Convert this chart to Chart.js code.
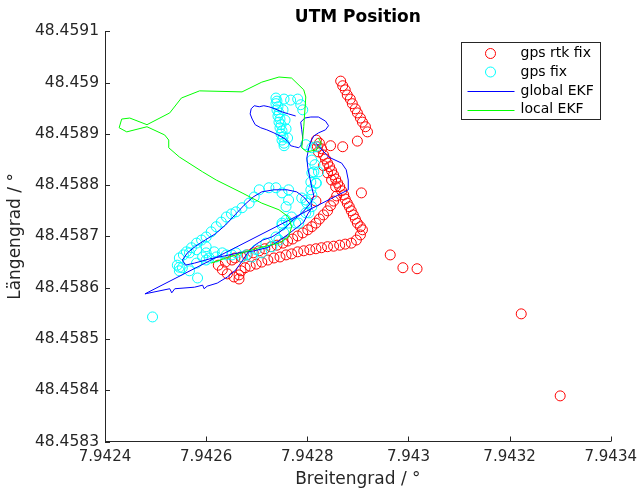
<!DOCTYPE html>
<html>
<head>
<meta charset="utf-8">
<script src="https://cdn.jsdelivr.net/npm/chart.js@4.4.1/dist/chart.umd.min.js"></script>
<style>
html,body{margin:0;padding:0;background:#fff;}
#wrap{width:644px;height:490px;position:relative;}
</style>
</head>
<body>
<div id="wrap"><canvas id="c" width="644" height="490"></canvas></div>
<script>
// ---- axis ticks ----
const xTickValues = [7.9424, 7.9426, 7.9428, 7.943, 7.9432, 7.9434];
const xTickLabels = ['7.9424', '7.9426', '7.9428', '7.943', '7.9432', '7.9434'];
const yTickValues = [48.4583, 48.4584, 48.4585, 48.4586, 48.4587, 48.4588, 48.4589, 48.459, 48.4591];
const yTickLabels = ['48.4583', '48.4584', '48.4585', '48.4586', '48.4587', '48.4588', '48.4589', '48.459', '48.4591'];

// ---- series labels ----
const seriesNames = ['gps rtk fix', 'gps fix', 'global EKF', 'local EKF'];

// ---- gps rtk fix ----
const rtkX = [
7.942866,7.942870,7.942875,7.942879,7.942885,7.942889,7.942895,7.942899,7.942905,7.942909,7.942915,7.942919,
7.942899,7.942870,7.942846,7.942907,7.942964,7.942989,7.943017,7.943223,7.943300,
7.942818,7.942824,7.942820,7.942828,7.942822,7.942832,
7.942836,7.942840,7.942844,7.942848,7.942852,7.942856,7.942860,7.942864,7.942868,7.942872,7.942875,7.942879,7.942883,7.942887,7.942891,7.942895,7.942899,7.942905,7.942909,
7.942905,7.942897,7.942887,7.942875,7.942864,7.942852,7.942840,7.942828,7.942817,7.942805,7.942793,7.942781,7.942769,7.942758,7.942746,7.942734,7.942722,7.942710,7.942699,7.942687,7.942677,7.942669,
7.942665,7.942665,7.942655,7.942642,7.942632,7.942624,7.942638,7.942651,
7.942858,7.942852,7.942846,7.942840,7.942832,7.942824,7.942817,7.942809,7.942801,7.942791,7.942781,7.942771,7.942761,7.942752,7.942740,7.942728,7.942716,7.942705,7.942693,7.942681,7.942669,7.942657,
7.942817,
7.942832,7.942840,7.942848,7.942856];
const rtkY = [
48.459003,48.458994,48.458986,48.458976,48.458968,48.458959,48.458949,48.458941,48.458931,48.458923,48.458914,48.458904,
48.458886,48.458875,48.458877,48.458785,48.458664,48.458639,48.458637,48.458549,48.458389,
48.458888,48.458882,48.458875,48.458871,48.458865,48.458859,
48.458851,48.458843,48.458836,48.458828,48.458820,48.458812,48.458804,48.458797,48.458789,48.458781,48.458773,48.458765,48.458758,48.458750,48.458742,48.458734,48.458726,48.458719,48.458713,
48.458703,48.458693,48.458687,48.458685,48.458683,48.458681,48.458680,48.458678,48.458676,48.458674,48.458672,48.458670,48.458666,48.458664,48.458660,48.458658,48.458654,48.458650,48.458646,48.458642,48.458639,48.458633,
48.458625,48.458617,48.458621,48.458627,48.458635,48.458644,48.458650,48.458654,
48.458779,48.458769,48.458760,48.458750,48.458742,48.458734,48.458726,48.458719,48.458713,48.458707,48.458701,48.458695,48.458691,48.458687,48.458683,48.458680,48.458676,48.458672,48.458668,48.458664,48.458660,48.458658,
48.458769,
48.458838,48.458824,48.458810,48.458797];

// ---- gps fix ----
const gpsX = [
7.942738,7.942740,7.942738,7.942742,7.942740,7.942744,7.942742,7.942746,7.942744,7.942748,7.942746,7.942750,7.942748,7.942752,7.942750,7.942754,7.942754,7.942758,7.942756,7.942752,7.942761,
7.942754,7.942767,7.942781,7.942787,7.942791,
7.942797,7.942809,7.942817,7.942809,7.942815,7.942822,7.942813,7.942807,7.942818,7.942807,7.942797,7.942809,7.942803,7.942789,
7.942705,7.942724,7.942738,7.942750,7.942763,7.942758,7.942769,7.942777,7.942750,7.942685,7.942659,7.942640,7.942620,7.942600,7.942581,7.942561,7.942547,7.942543,7.942553,7.942581,7.942600,7.942620,7.942640,7.942659,7.942679,7.942699,7.942718,7.942738,7.942758,7.942783,7.942797,7.942799,7.942809,7.942817,7.942809,7.942695,7.942671,
7.942600,7.942616,7.942632,7.942651,7.942671,7.942691,7.942710,7.942730,7.942744,7.942754,7.942750,7.942763,
7.942547,7.942567,7.942581,7.942600,7.942593,7.942606,7.942583,7.942547,7.942567,7.942494,
7.942650,7.942630,7.942610,7.942591,7.942571,7.942555,7.942763];
const gpsY = [
48.458970,48.458964,48.458959,48.458953,48.458947,48.458941,48.458935,48.458929,48.458923,48.458918,48.458912,48.458906,48.458900,48.458894,48.458888,48.458882,48.458877,48.458910,48.458927,48.458947,48.458892,
48.458968,48.458966,48.458968,48.458957,48.458947,
48.458879,48.458873,48.458875,48.458849,48.458840,48.458826,48.458826,48.458806,48.458804,48.458791,48.458771,48.458758,48.458746,48.458775,
48.458791,48.458795,48.458795,48.458785,48.458771,48.458758,48.458738,48.458726,48.458726,48.458765,48.458748,48.458738,48.458719,48.458699,48.458687,48.458670,48.458658,48.458644,48.458639,48.458648,48.458654,48.458660,48.458664,48.458668,48.458664,48.458674,48.458687,48.458699,48.458732,48.458726,48.458746,48.458765,48.458781,48.458804,48.458824,48.458777,48.458756,
48.458668,48.458670,48.458668,48.458664,48.458660,48.458660,48.458668,48.458680,48.458693,48.458707,48.458722,48.458726,
48.458640,48.458668,48.458674,48.458680,48.458660,48.458658,48.458619,48.458633,48.458633,48.458543,
48.458744,48.458728,48.458709,48.458693,48.458678,48.458664,48.458791];

// ---- global EKF ----
const globalX = [
7.942777,7.942763,7.942750,7.942736,7.942724,7.942714,7.942705,7.942695,7.942689,7.942687,
7.942691,7.942697,7.942708,7.942720,7.942734,7.942746,7.942756,7.942763,7.942767,7.942775,
7.942783,7.942789,7.942791,7.942789,7.942787,7.942795,7.942807,7.942822,7.942836,7.942842,
7.942836,7.942822,7.942813,7.942807,7.942803,7.942799,7.942801,7.942805,7.942809,7.942813,
7.942807,7.942809,7.942801,7.942793,7.942779,7.942763,7.942744,7.942720,7.942695,7.942665,
7.942636,7.942606,7.942577,7.942559,7.942553,7.942563,7.942579,7.942598,7.942618,7.942638,
7.942657,7.942675,7.942693,7.942710,7.942734,7.942760,7.942779,7.942793,7.942805,7.942795,
7.942783,7.942769,7.942760,7.942746,7.942730,7.942712,7.942699,7.942685,7.942671,7.942659,
7.942642,7.942622,7.942602,7.942596,7.942593,7.942577,7.942538,7.942532,7.942528,7.942479,
7.942881,7.942881,7.942877,7.942868,7.942842,7.942817];
const globalY = [
48.458935,48.458939,48.458943,48.458949,48.458953,48.458955,48.458953,48.458955,48.458949,48.458939,
48.458929,48.458918,48.458912,48.458908,48.458902,48.458896,48.458890,48.458884,48.458877,48.458875,
48.458873,48.458879,48.458892,48.458908,48.458923,48.458931,48.458933,48.458933,48.458925,48.458916,
48.458908,48.458902,48.458896,48.458886,48.458873,48.458853,48.458834,48.458814,48.458795,48.458779,
48.458765,48.458756,48.458744,48.458728,48.458717,48.458705,48.458691,48.458678,48.458672,48.458668,
48.458662,48.458656,48.458648,48.458644,48.458654,48.458668,48.458681,48.458693,48.458705,48.458722,
48.458742,48.458761,48.458777,48.458787,48.458791,48.458791,48.458787,48.458777,48.458763,48.458752,
48.458740,48.458730,48.458720,48.458709,48.458699,48.458693,48.458685,48.458672,48.458652,48.458635,
48.458621,48.458609,48.458603,48.458598,48.458605,48.458601,48.458598,48.458590,48.458598,48.458588,
48.458791,48.458810,48.458830,48.458843,48.458855,48.458882];

// ---- local EKF ----
const localX = [
7.942610,7.942640,7.942671,7.942705,7.942744,7.942763,7.942769,7.942763,7.942744,7.942710,
7.942671,7.942620,7.942593,7.942547,7.942526,7.942526,7.942518,7.942483,7.942443,7.942428,
7.942433,7.942449,7.942483,7.942528,7.942551,7.942587,7.942671,7.942710,7.942744,7.942769,
7.942793,7.942797,7.942793,7.942789,7.942799,7.942818,7.942828,7.942822];
const localY = [
48.458648,48.458658,48.458668,48.458678,48.458687,48.458699,48.458719,48.458738,48.458752,48.458765,
48.458785,48.458810,48.458826,48.458855,48.458873,48.458888,48.458898,48.458914,48.458904,48.458912,
48.458929,48.458931,48.458918,48.458941,48.458970,48.458984,48.458982,48.459001,48.459011,48.459009,
48.458986,48.458972,48.458914,48.458873,48.458865,48.458869,48.458882,48.458892];

const zip = (xs, ys) => xs.map((x, i) => ({x: x, y: ys[i]}));

const FONT = "'DejaVu Sans', 'Liberation Sans', sans-serif";
const AXIS_COLOR = '#262626';
const RED = 'rgb(255,0,0)', CYAN = 'rgb(0,255,255)', BLUE = 'rgb(0,0,255)', GREEN = 'rgb(0,255,0)';

const decoPlugin = {
  id: 'deco',
  afterDraw(chart) {
    const ctx = chart.ctx;
    const xs = chart.scales.x, ys = chart.scales.y;
    const a = chart.chartArea;
    ctx.save();
    // inward tick marks
    ctx.strokeStyle = AXIS_COLOR;
    ctx.lineWidth = 1;
    ctx.beginPath();
    xTickValues.forEach(v => {
      const px = Math.round(xs.getPixelForValue(v)) + 0.5;
      ctx.moveTo(px, a.bottom);
      ctx.lineTo(px, a.bottom - 5);
    });
    yTickValues.forEach(v => {
      const py = Math.round(ys.getPixelForValue(v)) + 0.5;
      ctx.moveTo(a.left, py);
      ctx.lineTo(a.left + 5, py);
    });
    ctx.stroke();

    // legend box
    const bx = Math.round(a.right) - 150 + 0.5, by = Math.round(a.top) + 11 + 0.5, bw = 139, bh = 77;
    ctx.fillStyle = '#fff';
    ctx.fillRect(bx, by, bw, bh);
    ctx.strokeStyle = AXIS_COLOR;
    ctx.strokeRect(bx, by, bw, bh);
    const rows = [11, 29.5, 48.5, 67];
    ctx.font = '14px ' + FONT;
    ctx.textBaseline = 'middle';
    ctx.textAlign = 'left';
    chart.data.datasets.forEach((ds, i) => {
      const ry = by + rows[i];
      ctx.strokeStyle = ds.borderColor;
      ctx.lineWidth = 1;
      ctx.beginPath();
      if (ds.showLine) {
        ctx.moveTo(bx + 6, Math.round(ry) + 0.5);
        ctx.lineTo(bx + 53, Math.round(ry) + 0.5);
      } else {
        ctx.arc(bx + 29, ry, 5, 0, Math.PI * 2);
      }
      ctx.stroke();
      ctx.fillStyle = '#000';
      ctx.fillText(ds.label, bx + 59, ry);
    });
    ctx.restore();
  }
};

new Chart(document.getElementById('c'), {
  type: 'scatter',
  data: {
    datasets: [
      {label: seriesNames[0], data: zip(rtkX, rtkY), showLine: false, pointStyle: 'circle', pointRadius: 5,
       pointBorderWidth: 1, borderColor: RED, pointBorderColor: RED, backgroundColor: 'rgba(0,0,0,0)', order: 4},
      {label: seriesNames[1], data: zip(gpsX, gpsY), showLine: false, pointStyle: 'circle', pointRadius: 5,
       pointBorderWidth: 1, borderColor: CYAN, pointBorderColor: CYAN, backgroundColor: 'rgba(0,0,0,0)', order: 3},
      {label: seriesNames[2], data: zip(globalX, globalY), showLine: true, pointRadius: 0, borderWidth: 1,
       borderColor: BLUE, backgroundColor: BLUE, fill: false, tension: 0, order: 2},
      {label: seriesNames[3], data: zip(localX, localY), showLine: true, pointRadius: 0, borderWidth: 1,
       borderColor: GREEN, backgroundColor: GREEN, fill: false, tension: 0, order: 1}
    ]
  },
  options: {
    responsive: false,
    devicePixelRatio: 1,
    animation: false,
    events: [],
    layout: {padding: {top: 0, right: 30, bottom: 0, left: 0}},
    plugins: {
      legend: {display: false},
      tooltip: {enabled: false},
      title: {
        display: true, text: 'UTM Position', fullSize: false, color: '#000',
        font: {family: FONT, size: 17, weight: 'bold', lineHeight: 1.2},
        padding: {top: 7.5, bottom: 3.5}
      }
    },
    scales: {
      x: {
        type: 'linear', position: 'bottom', min: 7.9424, max: 7.9434,
        afterBuildTicks: s => { s.ticks = xTickValues.map(v => ({value: v})); },
        afterFit: s => { s.height = 48.5; },
        grid: {display: false, drawTicks: false},
        border: {display: true, color: AXIS_COLOR, width: 1},
        ticks: {autoSkip: false, maxRotation: 0, minRotation: 0, padding: 7, color: AXIS_COLOR,
                font: {family: FONT, size: 15}, callback: (v, i) => xTickLabels[i]},
        title: {display: true, text: 'Breitengrad / °', color: AXIS_COLOR,
                font: {family: FONT, size: 17}, padding: {top: 0, bottom: 0}}
      },
      y: {
        type: 'linear', position: 'left', min: 48.4583, max: 48.4591,
        afterBuildTicks: s => { s.ticks = yTickValues.map(v => ({value: v})); },
        afterFit: s => { s.width = 105; },
        grid: {display: false, drawTicks: false},
        border: {display: true, color: AXIS_COLOR, width: 1},
        ticks: {autoSkip: false, padding: 6, color: AXIS_COLOR,
                font: {family: FONT, size: 15.5}, callback: (v, i) => yTickLabels[i]},
        title: {display: true, text: 'Längengrad / °', color: AXIS_COLOR,
                font: {family: FONT, size: 17}, padding: {top: 5, bottom: 0}}
      }
    }
  },
  plugins: [decoPlugin]
});
</script>
</body>
</html>
